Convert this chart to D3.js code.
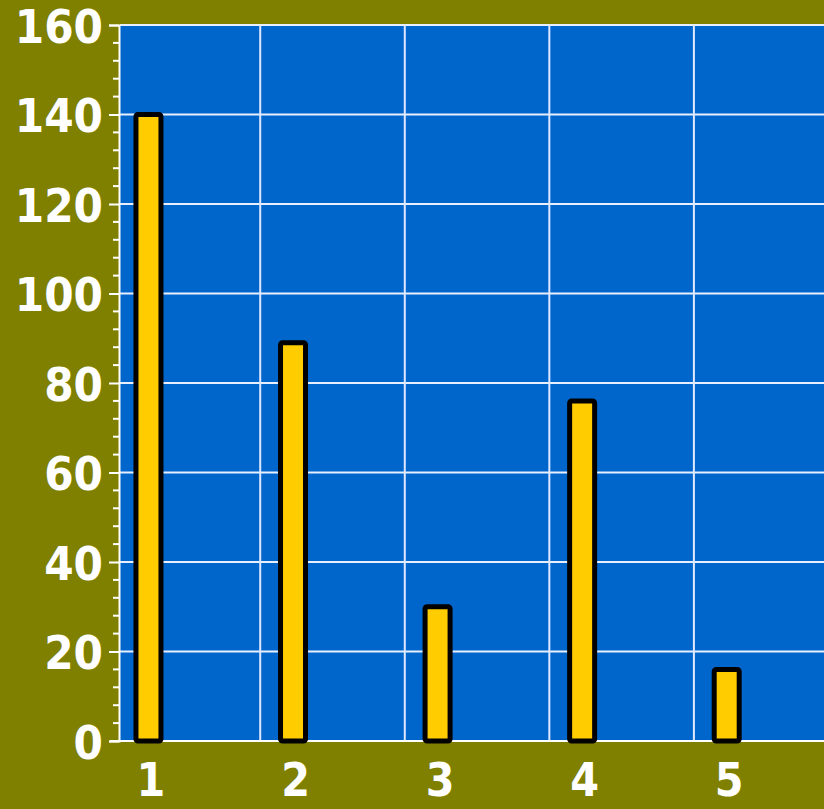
<!DOCTYPE html>
<html><head><meta charset="utf-8">
<script src="https://cdn.jsdelivr.net/npm/d3@7"></script>
<style>html,body{margin:0;padding:0;background:#808000;}svg{display:block;}</style>
</head><body>
<svg id="c" width="824" height="809"></svg>
<script>
const categories = [1, 2, 3, 4, 5];
const values = [140, 89, 30, 76, 16];
const yTicks = [0, 20, 40, 60, 80, 100, 120, 140, 160];
const xGridLines = [1.78, 2.78, 3.78, 4.78];

(function () {
const svg = d3.select("#c");
const W = 824, H = 809;
const mLeft = 120, mTop = 25, mBottom = 741, mRight = 824;
const FONT = "'DejaVu Sans Condensed', 'DejaVu Sans', sans-serif";

const x = d3.scaleLinear().domain([0.81, 5.68]).range([mLeft, mRight]);
const y = d3.scaleLinear().domain([0, 160]).range([mBottom, mTop]);

svg.append("rect").attr("width", W).attr("height", H).attr("fill", "#808000");
svg.append("rect").attr("x", mLeft).attr("y", mTop).attr("width", mRight - mLeft).attr("height", mBottom - mTop).attr("fill", "#0066CC");

// horizontal grid
svg.append("g").selectAll("line").data(yTicks).join("line")
  .attr("x1", mLeft).attr("x2", mRight)
  .attr("y1", d => y(d)).attr("y2", d => y(d))
  .attr("stroke", "#e8f0ff").attr("stroke-width", 2);
// vertical grid
svg.append("g").selectAll("line").data(xGridLines).join("line")
  .attr("x1", d => x(d)).attr("x2", d => x(d))
  .attr("y1", mTop).attr("y2", mBottom)
  .attr("stroke", "#dfe8ff").attr("stroke-width", 2);

// y axis
const yAxis = d3.axisLeft(y).tickValues(yTicks).tickSize(10).tickFormat(d3.format("d"));
const gy = svg.append("g").attr("transform", `translate(${mLeft - 1},0)`).call(yAxis);
gy.select(".domain").attr("stroke", "#ffffff").attr("stroke-width", 2);
gy.selectAll(".tick line").attr("stroke", "#ffffff").attr("stroke-width", 2);
gy.selectAll(".tick text").attr("fill", "#ffffff")
  .attr("font-family", FONT).attr("font-weight", "bold").attr("font-size", 47)
  .attr("x", -16).attr("dy", "0.37em");
// minor ticks
const minor = d3.range(0, 161, 4).filter(v => v % 20 !== 0);
svg.append("g").selectAll("line").data(minor).join("line")
  .attr("x1", mLeft - 7).attr("x2", mLeft - 1)
  .attr("y1", d => y(d)).attr("y2", d => y(d))
  .attr("stroke", "#ffffff").attr("stroke-width", 2);

// x axis line
svg.append("line").attr("x1", mLeft - 10).attr("x2", mRight).attr("y1", mBottom).attr("y2", mBottom)
  .attr("stroke", "#ffffff").attr("stroke-width", 2);

// bars
const bw = 25;
svg.append("g").selectAll("rect").data(values).join("rect")
  .attr("x", (d, i) => x(categories[i]) - bw / 2 + 1)
  .attr("y", d => y(d))
  .attr("width", bw)
  .attr("height", d => mBottom - y(d))
  .attr("rx", 2)
  .attr("fill", "#FFCC00").attr("stroke", "#000000").attr("stroke-width", 5);

// x labels
const xAxis = d3.axisBottom(x).tickValues(categories).tickSize(0).tickFormat(d3.format("d"));
const gx = svg.append("g").attr("transform", `translate(0,${mBottom})`).call(xAxis);
gx.select(".domain").remove();
gx.selectAll(".tick text").attr("fill", "#ffffff")
  .attr("font-family", FONT).attr("font-weight", "bold").attr("font-size", 46)
  .attr("dy", 0).attr("y", 55).attr("dx", 3);
})();
</script>
</body></html>
